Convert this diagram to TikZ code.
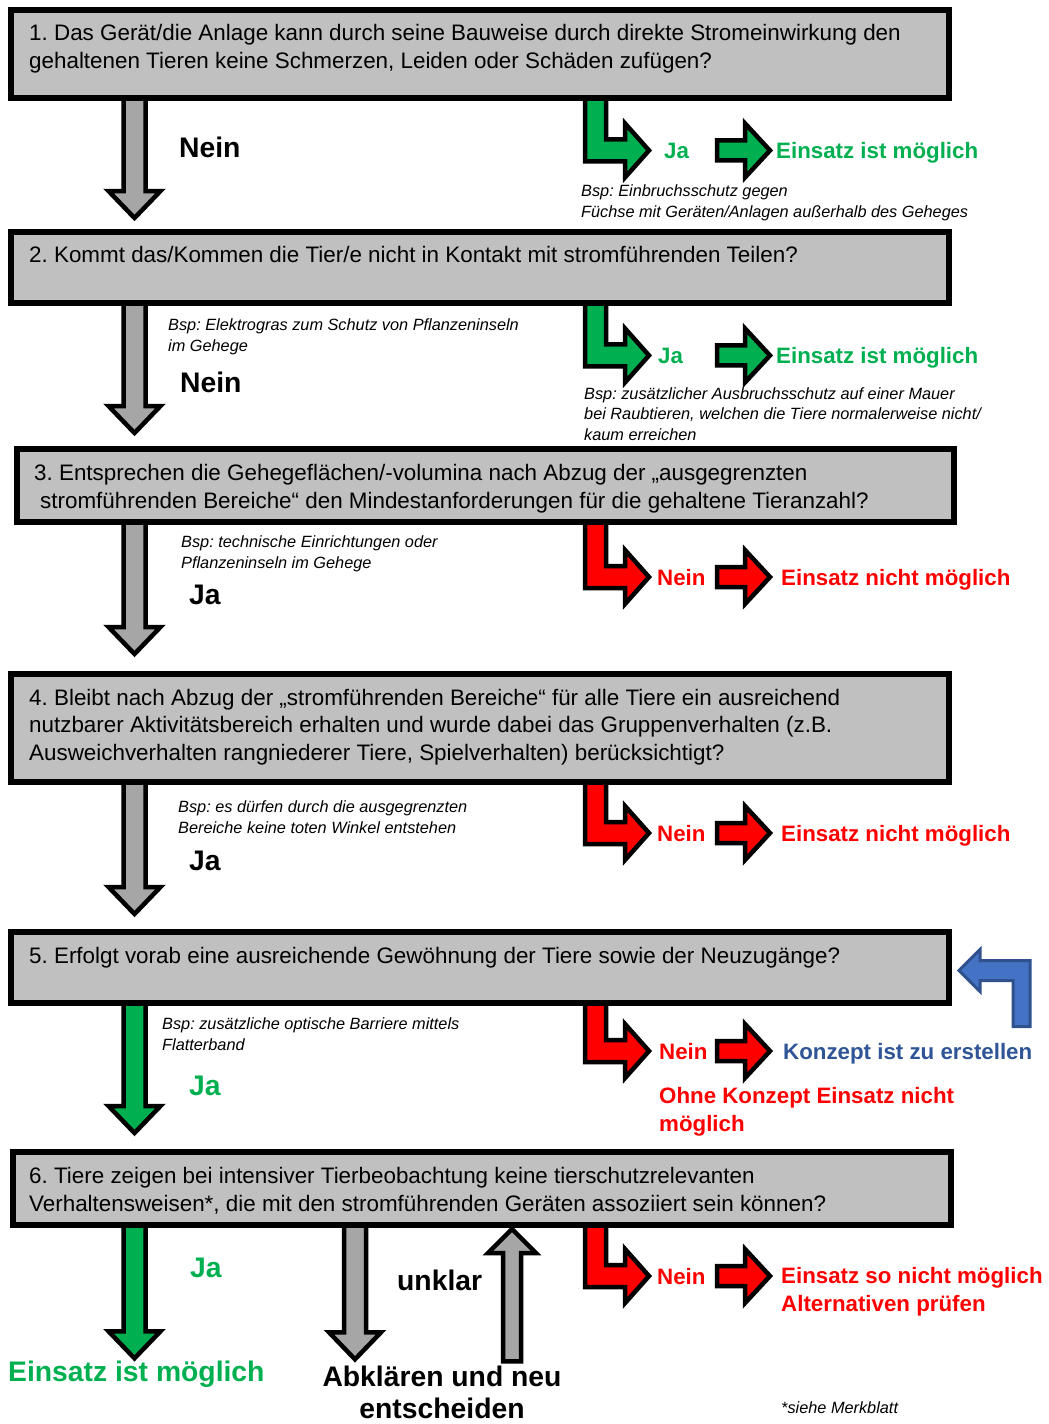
\documentclass[tikz,border=0pt]{standalone}
\usepackage{fontspec}
\setmainfont{Liberation Sans}
\usetikzlibrary{calc, backgrounds}
\frenchspacing

\definecolor{boxgray}{HTML}{C0C0C0}
\definecolor{arrowgray}{HTML}{A6A6A6}
\definecolor{okgreen}{HTML}{00B050}
\definecolor{nored}{HTML}{FF0000}
\definecolor{konzeptblue}{HTML}{2F5597}
\definecolor{arrowblue}{HTML}{4472C4}
\definecolor{arrowblueline}{HTML}{2F528F}

% block arrow straight down: from box #1 to point #2, shaft centre x = #3
\newcommand{\downblock}[4]{%
  \draw[blockline, fill=#4] let \p1=(#1.south), \p2=(#2) in
    (#3pt-11pt,\y1+5pt) -- (#3pt-11pt,\y2+27pt) -- (#3pt-26pt,\y2+27pt) -- (#3pt,\y2)
    -- (#3pt+26pt,\y2+27pt) -- (#3pt+11pt,\y2+27pt) -- (#3pt+11pt,\y1+5pt) -- cycle;}
% block arrow bent down and right: from box #1 to answer #2
\newcommand{\bendblock}[3]{%
  \draw[blockline, fill=#3] let \p1=(#1.south), \p2=(#2.west) in
    (585pt,\y1+5pt) -- (585pt,\y2-11pt) -- (625pt,\y2-11pt) -- (625pt,\y2-27pt) -- (649pt,\y2)
    -- (625pt,\y2+27pt) -- (625pt,\y2+11pt) -- (606pt,\y2+11pt) -- (606pt,\y1+5pt) -- cycle;}
% block arrow to the right, level with answer #1
\newcommand{\sideblock}[2]{%
  \draw[blockline, fill=#2] let \p1=(#1.west) in
    (717pt,\y1-10pt) -- (745pt,\y1-10pt) -- (745pt,\y1-27pt) -- (770pt,\y1) -- (745pt,\y1+27pt)
    -- (745pt,\y1+10pt) -- (717pt,\y1+10pt) -- cycle;}

\begin{document}
\begin{tikzpicture}[x=1pt, y=-1pt,
    qbox/.style={draw, line width=6pt, fill=boxgray, anchor=north west, inner sep=0pt, minimum width=938pt},
    qtext/.style={anchor=base west, inner sep=0pt, align=left, font=\fontsize{22.4}{27.3}\selectfont},
    bsp/.style={anchor=base west, inner sep=0pt, align=left, font=\fontsize{16.3}{20.5}\selectfont\itshape},
    bigans/.style={anchor=base west, inner sep=0pt, align=left, font=\fontsize{28.3}{32}\selectfont\bfseries},
    ans/.style={anchor=base west, inner sep=0pt, align=left, font=\fontsize{22.3}{27.5}\selectfont\bfseries},
    blockline/.style={draw=black, line width=4.5pt, line join=miter}
  ]
  \useasboundingbox (0,0) rectangle (1049,1424);

  % questions (multi-line texts sit on their last baseline)
  \node[qbox, minimum height=88pt] (q1) at (8,7) {};
  \node[qbox, minimum height=71pt] (q2) at (8,229) {};
  \node[qbox, minimum height=73pt, minimum width=937pt] (q3) at (14,446) {};
  \node[qbox, minimum height=108pt] (q4) at (8,671) {};
  \node[qbox, minimum height=71pt] (q5) at (8,929) {};
  \node[qbox, minimum height=73pt] (q6) at (10,1149) {};

  \node[qtext] (t1) at (29,68) {1. Das Gerät/die Anlage kann durch seine Bauweise durch direkte Stromeinwirkung den\\gehaltenen Tieren keine Schmerzen, Leiden oder Schäden zufügen?};
  \node[qtext] (t2) at (29,262) {2. Kommt das/Kommen die Tier/e nicht in Kontakt mit stromführenden Teilen?};
  \node[qtext] (t3) at (34,508) {3. Entsprechen die Gehegeflächen/-volumina nach Abzug der „ausgegrenzten\\\hspace*{6pt}stromführenden Bereiche“ den Mindestanforderungen für die gehaltene Tieranzahl?};
  \node[qtext] (t4) at (29,760) {4. Bleibt nach Abzug der „stromführenden Bereiche“ für alle Tiere ein ausreichend\\nutzbarer Aktivitätsbereich erhalten und wurde dabei das Gruppenverhalten (z.B.\\Ausweichverhalten rangniederer Tiere, Spielverhalten) berücksichtigt?};
  \node[qtext] (t5) at (29,963) {5. Erfolgt vorab eine ausreichende Gewöhnung der Tiere sowie der Neuzugänge?};
  \node[qtext] (t6) at (29,1211) {6. Tiere zeigen bei intensiver Tierbeobachtung keine tierschutzrelevanten\\Verhaltensweisen*, die mit den stromführenden Geräten assoziiert sein können?};

  % examples
  \node[bsp] (bsp1) at (581,217) {Bsp: Einbruchsschutz gegen\\Füchse mit Geräten/Anlagen außerhalb des Geheges};
  \node[bsp] (bsp2) at (168,351) {Bsp: Elektrogras zum Schutz von Pflanzeninseln\\im Gehege};
  \node[bsp] (bsp2r) at (584,440) {Bsp: zusätzlicher Ausbruchsschutz auf einer Mauer\\bei Raubtieren, welchen die Tiere normalerweise nicht/\\kaum erreichen};
  \node[bsp] (bsp3) at (181,568) {Bsp: technische Einrichtungen oder\\Pflanzeninseln im Gehege};
  \node[bsp] (bsp4) at (178,833) {Bsp: es dürfen durch die ausgegrenzten\\Bereiche keine toten Winkel entstehen};
  \node[bsp] (bsp5) at (162,1050) {Bsp: zusätzliche optische Barriere mittels\\Flatterband};
  \node[bsp] (note) at (781,1413) {*siehe Merkblatt};

  % answers on the main line
  \node[bigans] (down1) at (179,157) {Nein};
  \node[bigans] (down2) at (180,392) {Nein};
  \node[bigans] (down3) at (189,604) {Ja};
  \node[bigans] (down4) at (189,870) {Ja};
  \node[bigans, text=okgreen] (down5) at (189,1095) {Ja};
  \node[bigans, text=okgreen] (down6) at (190,1277) {Ja};
  \node[bigans] (unklar) at (397,1290) {unklar};
  \node[bigans, anchor=base, align=center] (abk) at (442,1418) {Abklären und neu\\entscheiden};
  \node[bigans, text=okgreen] (okend) at (8,1381) {Einsatz ist möglich};

  % answers to the side
  \node[ans, text=okgreen] (a1) at (664,158) {Ja};
  \node[ans, text=okgreen] (r1) at (776,158) {Einsatz ist möglich};
  \node[ans, text=okgreen] (a2) at (658,363) {Ja};
  \node[ans, text=okgreen] (r2) at (776,363) {Einsatz ist möglich};
  \node[ans, text=nored] (a3) at (657,585) {Nein};
  \node[ans, text=nored] (r3) at (781,585) {Einsatz nicht möglich};
  \node[ans, text=nored] (a4) at (657,841) {Nein};
  \node[ans, text=nored] (r4) at (781,841) {Einsatz nicht möglich};
  \node[ans, text=nored] (a5) at (659,1059) {Nein};
  \node[ans, text=konzeptblue] (r5) at (783,1059) {Konzept ist zu erstellen};
  \node[ans, text=nored] (r5b) at (659,1131) {Ohne Konzept Einsatz nicht\\möglich};
  \node[ans, text=nored] (a6) at (657,1284) {Nein};
  \node[ans, text=nored] (r6) at (781,1311) {Einsatz so nicht möglich\\Alternativen prüfen};

  \begin{scope}[on background layer]
    \downblock{q1}{[yshift=11pt]q2.north}{134.5}{arrowgray}
    \downblock{q2}{[yshift=13pt]q3.north}{134.5}{arrowgray}
    \downblock{q3}{[yshift=17pt]q4.north}{134.5}{arrowgray}
    \downblock{q4}{[yshift=15pt]q5.north}{134.5}{arrowgray}
    \downblock{q5}{[yshift=16pt]q6.north}{134.5}{okgreen}
    \downblock{q6}{[yshift=2pt]okend.north}{134.5}{okgreen}
    \downblock{q6}{[yshift=6pt]abk.north}{355}{arrowgray}
    % back up to question 6
    \draw[blockline, fill=arrowgray] let \p1=([yshift=4pt]abk.north), \p2=(q6.south) in
      (503pt,\y1) -- (503pt,\y2-25pt) -- (488pt,\y2-25pt) -- (512pt,\y2-1pt) -- (536pt,\y2-25pt)
      -- (521pt,\y2-25pt) -- (521pt,\y1) -- cycle;

    \bendblock{q1}{a1}{okgreen}
    \bendblock{q2}{a2}{okgreen}
    \bendblock{q3}{a3}{nored}
    \bendblock{q4}{a4}{nored}
    \bendblock{q5}{a5}{nored}
    \bendblock{q6}{a6}{nored}
    \sideblock{a1}{okgreen}
    \sideblock{a2}{okgreen}
    \sideblock{a3}{nored}
    \sideblock{a4}{nored}
    \sideblock{a5}{nored}
    \sideblock{a6}{nored}
  \end{scope}

  % from the concept back to question 5
  \draw[line width=3pt, draw=arrowblueline, fill=arrowblue, shift={(q5.east)}]
    (7,3) -- (28,-18) -- (28,-7) -- (78,-7) -- (78,59) -- (61,59) -- (61,13) -- (28,13) -- (28,24) -- cycle;
\end{tikzpicture}
\end{document}
